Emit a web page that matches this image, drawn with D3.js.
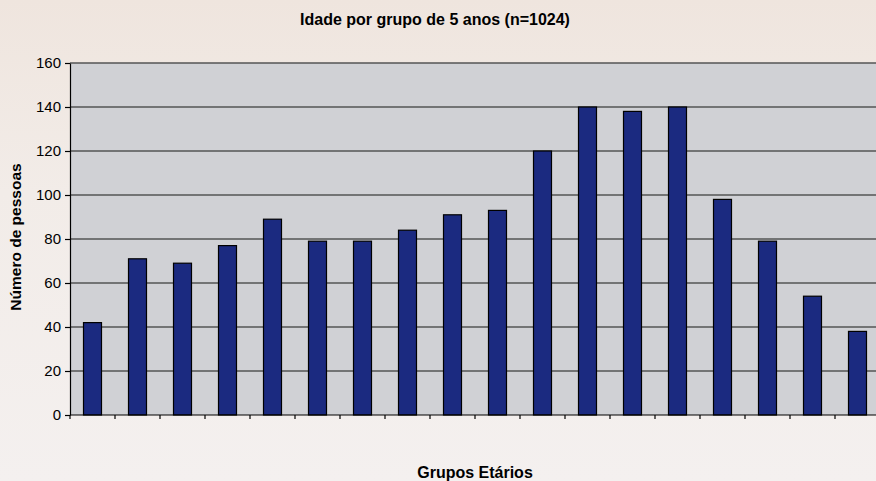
<!DOCTYPE html>
<html>
<head>
<meta charset="utf-8">
<script src="https://cdn.jsdelivr.net/npm/d3@7"></script>
<style>
  body { margin: 0; }
  svg { display: block; font-family: "Liberation Sans", Arial, sans-serif; }
</style>
</head>
<body>
<div id="chart"></div>
<script>
var svgWidth = 876;
var svgHeight = 481;

// age groups (5 years each), labels are not shown on the chart
var groups = ["0-4", "5-9", "10-14", "15-19", "20-24", "25-29", "30-34", "35-39", "40-44",
  "45-49", "50-54", "55-59", "60-64", "65-69", "70-74", "75-79", "80-84", "85+"];
var pessoas = [42, 71, 69, 77, 89, 79, 79, 84, 91, 93, 120, 140, 138, 140, 98, 79, 54, 38];
var yTicks = [0, 20, 40, 60, 80, 100, 120, 140, 160];

// plot area runs slightly past the right edge of the picture
var margin = { top: 63, right: -4, bottom: 66, left: 70 };
var width = svgWidth - margin.left - margin.right;
var height = svgHeight - margin.top - margin.bottom;

var svg = d3.select("#chart")
  .append("svg")
  .attr("width", svgWidth)
  .attr("height", svgHeight);

// background
var defs = svg.append("defs");
var grad = defs.append("linearGradient")
  .attr("id", "bg")
  .attr("x1", 0).attr("y1", 0).attr("x2", 0).attr("y2", 1);
grad.append("stop").attr("offset", "0%").attr("stop-color", "#efe5de");
grad.append("stop").attr("offset", "40%").attr("stop-color", "#f2ece8");
grad.append("stop").attr("offset", "100%").attr("stop-color", "#f4f0ef");

svg.append("rect")
  .attr("width", svgWidth)
  .attr("height", svgHeight)
  .attr("fill", "url(#bg)");

var chartGroup = svg.append("g")
  .attr("transform", `translate(${margin.left}, ${margin.top})`);

var xScale = d3.scaleBand()
  .domain(groups)
  .range([0, width])
  .paddingInner(0.6)
  .paddingOuter(0.3);

var yScale = d3.scaleLinear()
  .domain([0, 160])
  .range([height, 0]);

// plot area
chartGroup.append("rect")
  .attr("width", width)
  .attr("height", height)
  .attr("fill", "#d0d1d5");

// gridlines
chartGroup.selectAll("line.grid")
  .data(yTicks.slice(1))
  .enter()
  .append("line")
  .attr("class", "grid")
  .attr("x1", 0)
  .attr("x2", width)
  .attr("y1", d => yScale(d))
  .attr("y2", d => yScale(d))
  .attr("stroke", "#555")
  .attr("stroke-width", 1.6);

// bars
chartGroup.selectAll("rect.bar")
  .data(pessoas)
  .enter()
  .append("rect")
  .attr("class", "bar")
  .attr("x", (d, i) => xScale(groups[i]))
  .attr("y", d => yScale(d))
  .attr("width", xScale.bandwidth())
  .attr("height", d => height - yScale(d))
  .attr("fill", "#1b2a80")
  .attr("stroke", "#000")
  .attr("stroke-width", 1.2);

// y axis
var yAxis = d3.axisLeft(yScale).tickValues(yTicks).tickSize(5).tickSizeOuter(0);
var yG = chartGroup.append("g").call(yAxis);
yG.select(".domain").attr("stroke", "#000").attr("stroke-width", 1.2);
yG.selectAll(".tick line").attr("stroke", "#000").attr("stroke-width", 1.2);
yG.selectAll(".tick text")
  .attr("x", -9)
  .attr("fill", "#000")
  .attr("font-size", 15)
  .attr("font-family", "Liberation Sans, Arial, sans-serif");

// x axis: tick marks at category boundaries, no labels
var xBoundaries = d3.range(groups.length + 1).map(i => i * width / groups.length);
chartGroup.append("line")
  .attr("x1", 0).attr("x2", width)
  .attr("y1", height).attr("y2", height)
  .attr("stroke", "#000")
  .attr("stroke-width", 1.2);
chartGroup.selectAll("line.xtick")
  .data(xBoundaries)
  .enter()
  .append("line")
  .attr("class", "xtick")
  .attr("x1", d => d).attr("x2", d => d)
  .attr("y1", height).attr("y2", height + 4)
  .attr("stroke", "#000")
  .attr("stroke-width", 1.2);

// title
svg.append("text")
  .attr("x", 435)
  .attr("y", 25)
  .attr("text-anchor", "middle")
  .attr("font-size", 16)
  .attr("font-weight", "bold")
  .text("Idade por grupo de 5 anos (n=1024)");

// axis titles
svg.append("text")
  .attr("transform", `translate(21, ${margin.top + height / 2 - 2}) rotate(-90)`)
  .attr("text-anchor", "middle")
  .attr("font-size", 15.5)
  .attr("font-weight", "bold")
  .text("Número de pessoas");

svg.append("text")
  .attr("x", 475)
  .attr("y", 478)
  .attr("text-anchor", "middle")
  .attr("font-size", 16)
  .attr("font-weight", "bold")
  .text("Grupos Etários");
</script>
</body>
</html>
